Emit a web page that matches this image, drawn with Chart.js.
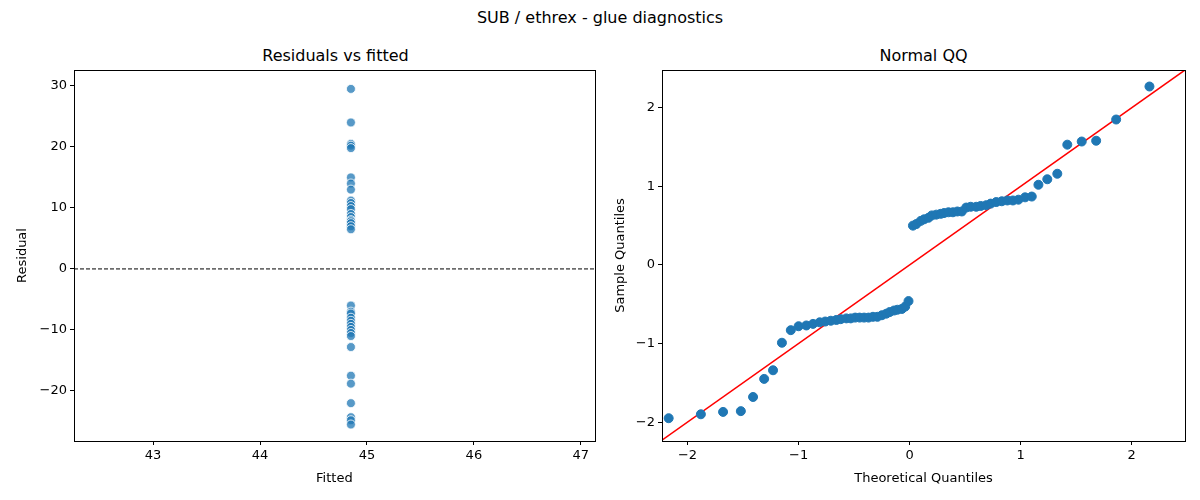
<!DOCTYPE html>
<html><head><meta charset="utf-8">
<script src="https://cdn.jsdelivr.net/npm/chart.js@4"></script>
<style>
body{margin:0;width:1200px;height:500px;background:#fff;font-family:"DejaVu Sans",sans-serif;position:relative;overflow:hidden}
.t{position:absolute;font-size:16px;color:#000;text-align:center;white-space:nowrap}
.c{position:absolute;top:0;width:600px;height:500px}
</style></head><body>
<div class="t" style="left:0;width:1200px;top:8px">SUB / ethrex - glue diagnostics</div>
<div class="t" style="left:74px;width:523px;top:46px">Residuals vs fitted</div>
<div class="t" style="left:662px;width:523px;top:46px">Normal QQ</div>
<div class="c" style="left:0"><canvas id="a" width="600" height="500"></canvas></div>
<div class="c" style="left:600px"><canvas id="b" width="600" height="500"></canvas></div>
<script>
const fittedValue = 44.85;
const residuals = [29.5,24,20.5,20.2,19.8,15,14,13,11.2,10.8,10.3,9.8,9,8.5,8,7.8,7.5,7,6.5,
 -6,-7,-7.3,-8,-8.5,-9,-9.5,-10,-10.5,-11,-12.8,-17.5,-18.8,-22,-24.3,-24.8,-25.5];
const qqTheoretical = [-2.17,-1.88,-1.68,-1.52,-1.41,-1.31,-1.23,-1.15,-1.07,-1.0,-0.93,-0.87,-0.81,-0.76,-0.71,-0.66,-0.62,-0.57,-0.53,-0.49,-0.45,-0.41,-0.37,-0.33,-0.29,-0.25,-0.21,-0.18,-0.14,-0.11,-0.07,-0.04,-0.01,
 0.03,0.06,0.1,0.13,0.17,0.2,0.24,0.28,0.31,0.35,0.39,0.43,0.47,0.51,0.55,0.6,0.64,0.69,0.73,0.78,0.83,0.88,0.93,0.98,1.04,1.1,1.16,1.24,1.33,1.42,1.55,1.68,1.86,2.16];
const qqSample = [-1.95,-1.9,-1.87,-1.86,-1.68,-1.45,-1.34,-0.99,-0.83,-0.78,-0.77,-0.75,-0.73,-0.72,-0.71,-0.7,-0.69,-0.68,-0.68,-0.67,-0.67,-0.67,-0.67,-0.66,-0.66,-0.64,-0.62,-0.6,-0.58,-0.57,-0.56,-0.53,-0.46,
 0.5,0.52,0.56,0.58,0.6,0.63,0.64,0.65,0.66,0.67,0.67,0.68,0.68,0.73,0.74,0.74,0.75,0.76,0.78,0.8,0.81,0.82,0.82,0.83,0.86,0.87,1.02,1.09,1.16,1.53,1.57,1.58,1.85,2.27];
const qqLineX = [-2.23,2.48];
const qqLineY = [-2.23,2.48];
const leftX = [42.26,47.13], leftY=[-28.2,32.6];
const leftXTicks=[43,44,45,46,47], leftYTicks=[-20,-10,0,10,20,30];
const rightXTicks=[-2,-1,0,1,2], rightYTicks=[-2,-1,0,1,2];
const rightX=[-2.23,2.48], rightY=[-2.24,2.48];

const font={family:"DejaVu Sans",size:13};
const fmt=v=>String(v).replace('-','\u2212');
const box={id:'box',afterDraw(c){const a=c.chartArea,x=c.ctx;x.save();x.strokeStyle='#000';x.lineWidth=1;x.strokeRect(Math.round(a.left)+0.5,Math.round(a.top)+0.5,Math.round(a.width),Math.round(a.height));x.restore();}};
function scale(min,max,ticks,title,fitKey,fitVal){
 return {type:'linear',min,max,grid:{display:true,drawOnChartArea:false,drawTicks:true,tickLength:4,color:'#000'},border:{display:false},
  afterBuildTicks(s){s.ticks=ticks.map(v=>({value:v}));},
  afterFit(s){s[fitKey]=fitVal;},
  ticks:{color:'#000',font,padding:3,callback:fmt,maxRotation:0},
  title:{display:true,text:title,color:'#000',font,padding:{top:2,bottom:0}}};
}
new Chart(document.getElementById('a'),{type:'scatter',
 data:{datasets:[
  {data:residuals.map(r=>({x:fittedValue,y:r})),backgroundColor:'rgba(31,119,180,0.75)',borderColor:'#fff',borderWidth:0.8,pointRadius:4.5},
  {type:'line',data:leftX.map(x=>({x,y:0})),borderColor:'#000',borderWidth:1,borderDash:[4,2],pointRadius:0}]},
 options:{responsive:false,animation:false,layout:{padding:{top:70,right:3,left:13,bottom:14}},
  plugins:{legend:{display:false},tooltip:{enabled:false}},
  scales:{x:scale(leftX[0],leftX[1],leftXTicks,'Fitted','height',45),y:scale(leftY[0],leftY[1],leftYTicks,'Residual','width',61)}},
 plugins:[box]});
new Chart(document.getElementById('b'),{type:'scatter',
 data:{datasets:[
  {data:qqTheoretical.map((x,i)=>({x,y:qqSample[i]})),backgroundColor:'#1f77b4',borderColor:'#1f77b4',pointRadius:4.5},
  {type:'line',data:qqLineX.map((x,i)=>({x,y:qqLineY[i]})),borderColor:'#ff0000',borderWidth:1.5,pointRadius:0}]},
 options:{responsive:false,animation:false,layout:{padding:{top:70,right:15,left:11,bottom:14}},
  plugins:{legend:{display:false},tooltip:{enabled:false}},
  scales:{x:scale(rightX[0],rightX[1],rightXTicks,'Theoretical Quantiles','height',45),y:scale(rightY[0],rightY[1],rightYTicks,'Sample Quantiles','width',51)}},
 plugins:[box]});
</script></body></html>
